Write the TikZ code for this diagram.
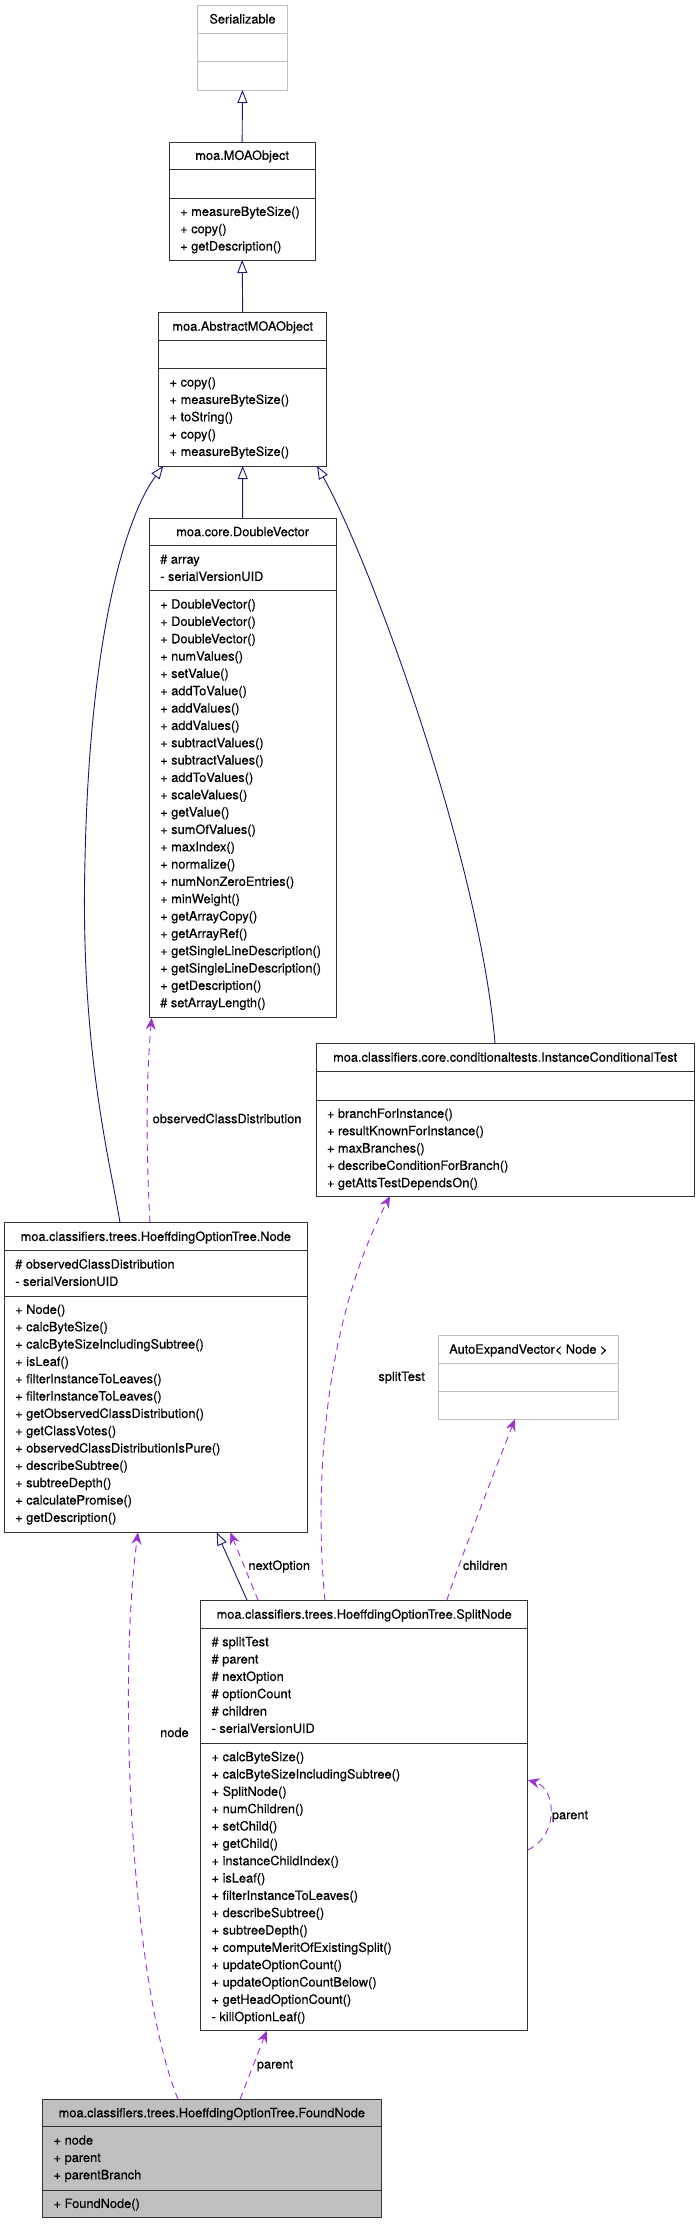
\documentclass[tikz,border=0pt]{standalone}
\usepackage{fontspec}
\setmainfont{TeX Gyre Heros}[UprightFeatures={FakeBold=0.4}]
\usetikzlibrary{arrows.meta,calc}
\definecolor{genc}{HTML}{191970}
\definecolor{usec}{HTML}{9A32CD}
\definecolor{extc}{HTML}{BFBFBF}
\newcommand\ubox[6]{\node[#2, minimum width={#5-#3}, minimum height={#6-#4}] (#1) at (#3,#4) {};}
\newcommand\udiv[3]{\draw[#3] (#1.west |- 0,#2) -- (#1.east |- 0,#2);}
\newcommand\umembers[4]{\foreach \mtext [count=\mi from 0] in {#4} {\node[mem] (#1\mi) at (#2, {#3+17.9+17.33*\mi}) {\mtext};}}
\begin{document}
\begin{tikzpicture}[x=1pt,y=-1pt,
  box/.style={draw=black!80, line width=1pt, inner sep=0pt, outer sep=0pt, anchor=north west},
  extbox/.style={box, draw=extc},
  divline/.style={draw=black!80, line width=1pt},
  extdiv/.style={draw=extc, line width=1pt},
  mem/.style={font=\fontsize{12.8}{15}\selectfont, inner sep=0pt, anchor=base west},
  ttl/.style={mem, anchor=base},
  genarrow/.style={draw=genc, line width=0.9pt, -{Triangle[length=13pt,width=10pt,fill=white]}},
  usearrow/.style={draw=usec, line width=0.9pt, dash pattern=on 7pt off 5pt, -{Stealth[length=12pt,width=10pt,inset=4pt]}},
  lbl/.style={mem}]
\useasboundingbox (0,0) rectangle (700,2224);

% Serializable
\ubox{ser}{extbox}{197.7}{5.3}{287.3}{90}
\udiv{ser}{33.3}{extdiv}\udiv{ser}{62}{extdiv}
\node[ttl] (sert) at (242.5,23.5) {Serializable};

% MOAObject
\ubox{moa}{box}{169.3}{142}{315}{260}
\udiv{moa}{169.3}{divline}\udiv{moa}{198}{divline}
\node[ttl] (moat) at (242.15,159.85) {moa.MOAObject};
\umembers{moam}{180}{198}{+ measureByteSize(), + copy(), + getDescription()}

% AbstractMOAObject
\ubox{abs}{box}{158.7}{312.7}{326.7}{466}
\udiv{abs}{340.3}{divline}\udiv{abs}{368.7}{divline}
\node[ttl] (abst) at (242.7,330.7) {moa.AbstractMOAObject};
\umembers{absm}{169.4}{368.7}{+ copy(), + measureByteSize(), + toString(), + copy(), + measureByteSize()}

% DoubleVector
\ubox{dv}{box}{149.3}{518.3}{336}{1017.7}
\udiv{dv}{545.7}{divline}\udiv{dv}{590.7}{divline}
\node[ttl] (dvt) at (242.65,536.2) {moa.core.DoubleVector};
\umembers{dva}{160}{545.7}{\# array, - serialVersionUID}
\umembers{dvm}{160}{590.7}{+ DoubleVector(), + DoubleVector(), + DoubleVector(), + numValues(), + setValue(), + addToValue(), + addValues(), + addValues(), + subtractValues(), + subtractValues(), + addToValues(), + scaleValues(), + getValue(), + sumOfValues(), + maxIndex(), + normalize(), + numNonZeroEntries(), + minWeight(), + getArrayCopy(), + getArrayRef(), + getSingleLineDescription(), + getSingleLineDescription(), + getDescription(), \# setArrayLength()}

% InstanceConditionalTest
\ubox{ict}{box}{316}{1043.3}{694.3}{1196}
\udiv{ict}{1071.7}{divline}\udiv{ict}{1100}{divline}
\node[ttl] (ictt) at (505.15,1061.7) {moa.classifiers.core.conditionaltests.InstanceConditionalTest};
\umembers{ictm}{326.7}{1100}{+ branchForInstance(), + resultKnownForInstance(), + maxBranches(), + describeConditionForBranch(), + getAttsTestDependsOn()}

% Node
\ubox{node}{box}{4.3}{1222.7}{307.3}{1532.3}
\udiv{node}{1250.7}{divline}\udiv{node}{1296}{divline}
\node[ttl] (nodet) at (155.8,1240.9) {moa.classifiers.trees.HoeffdingOptionTree.Node};
\umembers{nodea}{15}{1250.7}{\# observedClassDistribution, - serialVersionUID}
\umembers{nodem}{15}{1296}{+ Node(), + calcByteSize(), + calcByteSizeIncludingSubtree(), + isLeaf(), + filterInstanceToLeaves(), + filterInstanceToLeaves(), + getObservedClassDistribution(), + getClassVotes(), + observedClassDistributionIsPure(), + describeSubtree(), + subtreeDepth(), + calculatePromise(), + getDescription()}

% AutoExpandVector
\ubox{aev}{extbox}{438.7}{1335.7}{618}{1419}
\udiv{aev}{1363.3}{extdiv}\udiv{aev}{1391}{extdiv}
\node[ttl] (aevt) at (528.35,1353.7) {AutoExpandVector< Node >};

% SplitNode
\ubox{split}{box}{200.7}{1600.7}{527.7}{2030.7}
\udiv{split}{1628.3}{divline}\udiv{split}{1743.3}{divline}
\node[ttl] (splitt) at (364.2,1618.7) {moa.classifiers.trees.HoeffdingOptionTree.SplitNode};
\umembers{splita}{211.4}{1628.3}{\# splitTest, \# parent, \# nextOption, \# optionCount, \# children, - serialVersionUID}
\umembers{splitm}{211.4}{1743.3}{+ calcByteSize(), + calcByteSizeIncludingSubtree(), + SplitNode(), + numChildren(), + setChild(), + getChild(), + instanceChildIndex(), + isLeaf(), + filterInstanceToLeaves(), + describeSubtree(), + subtreeDepth(), + computeMeritOfExistingSplit(), + updateOptionCount(), + updateOptionCountBelow(), + getHeadOptionCount(), - killOptionLeaf()}

% FoundNode
\ubox{found}{box,fill=extc}{42.7}{2099.3}{381}{2217.7}
\udiv{found}{2126.7}{divline}\udiv{found}{2190}{divline}
\node[ttl] (foundt) at (211.85,2117.2) {moa.classifiers.trees.HoeffdingOptionTree.FoundNode};
\umembers{founda}{53.4}{2126.7}{+ node, + parent, + parentBranch}
\umembers{foundm}{53.4}{2190}{+ FoundNode()}

% generalizations
\draw[genarrow] (moa.north) -- (ser.south);
\draw[genarrow] (abs.north) -- (moa.south);
\draw[genarrow] (dv.north) -- (abs.south);
\draw[genarrow] ([xshift=115.7pt]node.north west) .. controls (110,1160) and (80,1050) .. (85,860) .. controls (90,620) and (130,510) .. ([xshift=4.6pt]abs.south west);
\draw[genarrow] ([xshift=179pt]ict.north west) .. controls (480,860) and (370,560) .. ([xshift=158.3pt]abs.south west);
\draw[genarrow] ([xshift=46.6pt]split.north west) -- ([xshift=212.4pt]node.south west);

% usages
\draw[usearrow] ([xshift=145.7pt]node.north west) .. controls (146,1150) and (146,1080) .. ([xshift=2.4pt]dv.south west);
\node[lbl] (l1) at (152.5,1123.2) {observedClassDistribution};
\draw[usearrow] ([xshift=124.3pt]split.north west) .. controls (315,1500) and (320,1330) .. ([xshift=74pt]ict.south west);
\node[lbl, anchor=base east] (l2) at (425,1380.9) {splitTest};
\draw[usearrow] ([xshift=246pt]split.north west) .. controls (460,1560) and (495,1470) .. ([xshift=76.3pt]aev.south west);
\node[lbl] (l3) at (462.7,1569.9) {children};
\draw[usearrow] ([xshift=57.6pt]split.north west) -- ([xshift=226pt]node.south west);
\node[lbl] (l4) at (248.3,1569.9) {nextOption};
\draw[usearrow] ([yshift=-249.3pt]split.north east) .. controls (560,1835) and (556,1788) .. ([yshift=-179.3pt]split.north east);
\node[lbl] (l5) at (551.7,1819.2) {parent};
\draw[usearrow] ([xshift=135.3pt]found.north west) .. controls (130,1980) and (118,1680) .. ([xshift=133.7pt]node.south west);
\node[lbl] (l6) at (160,1737) {node};
\draw[usearrow] ([xshift=197.3pt]found.north west) -- ([xshift=66pt]split.south west);
\node[lbl] (l7) at (256.7,2068.5) {parent};
\end{tikzpicture}
\end{document}
